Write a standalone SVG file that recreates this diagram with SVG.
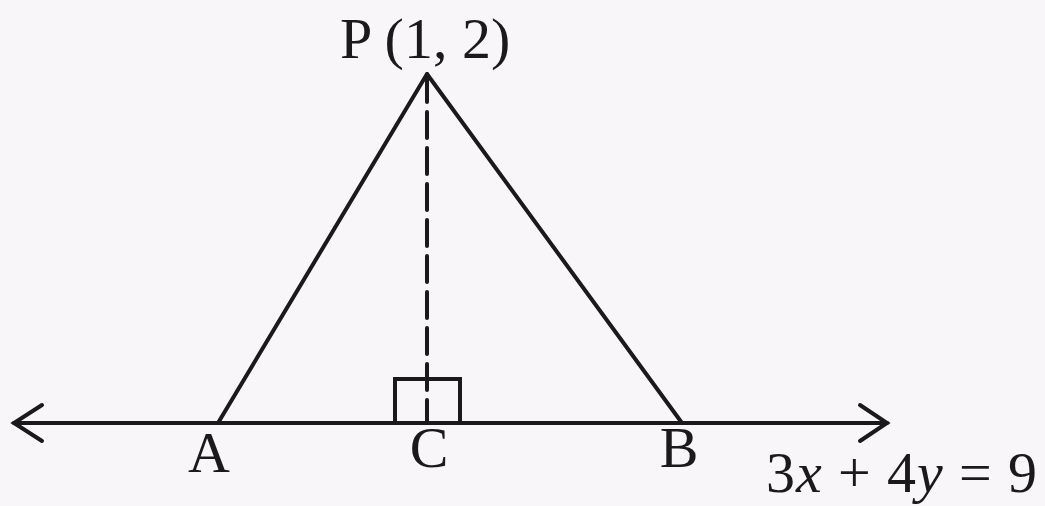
<svg xmlns="http://www.w3.org/2000/svg" width="1045" height="506" viewBox="0 0 1045 506">
<style>
.ln{stroke:#1a1a1a;stroke-width:4;fill:none;stroke-linecap:round}
.lb{font-family:"Liberation Serif","DejaVu Serif",serif;font-size:58px;fill:#1a1a1a}
.it{font-style:italic}
</style>
<rect width="1045" height="506" fill="#f8f6f8"/>
<g id="connectors">
<line class="ln" x1="14" y1="423" x2="887" y2="423"/>
<polyline class="ln" points="42,405 14,423 42,441"/>
<polyline class="ln" points="860,405 887,423 860,441"/>
<line class="ln" x1="427" y1="74" x2="218" y2="423"/>
<line class="ln" x1="427" y1="74" x2="682" y2="423"/>
<line class="ln" x1="427" y1="76" x2="427" y2="423" stroke-dasharray="26 10" stroke-linecap="butt"/>
<polyline class="ln" points="395,423 395,379 460,379 460,423" stroke-linecap="butt"/>
</g>
<g id="P"><text class="lb" x="340" y="58">P (1, 2)</text></g>
<g id="A"><text class="lb" x="209" y="472" text-anchor="middle">A</text></g>
<g id="C"><text class="lb" x="429" y="467" text-anchor="middle">C</text></g>
<g id="B"><text class="lb" x="679" y="467" text-anchor="middle">B</text></g>
<g id="eq"><text class="lb" x="766" y="492" textLength="271" lengthAdjust="spacing">3<tspan class="it">x</tspan> + 4<tspan class="it">y</tspan> = 9</text></g>
</svg>
